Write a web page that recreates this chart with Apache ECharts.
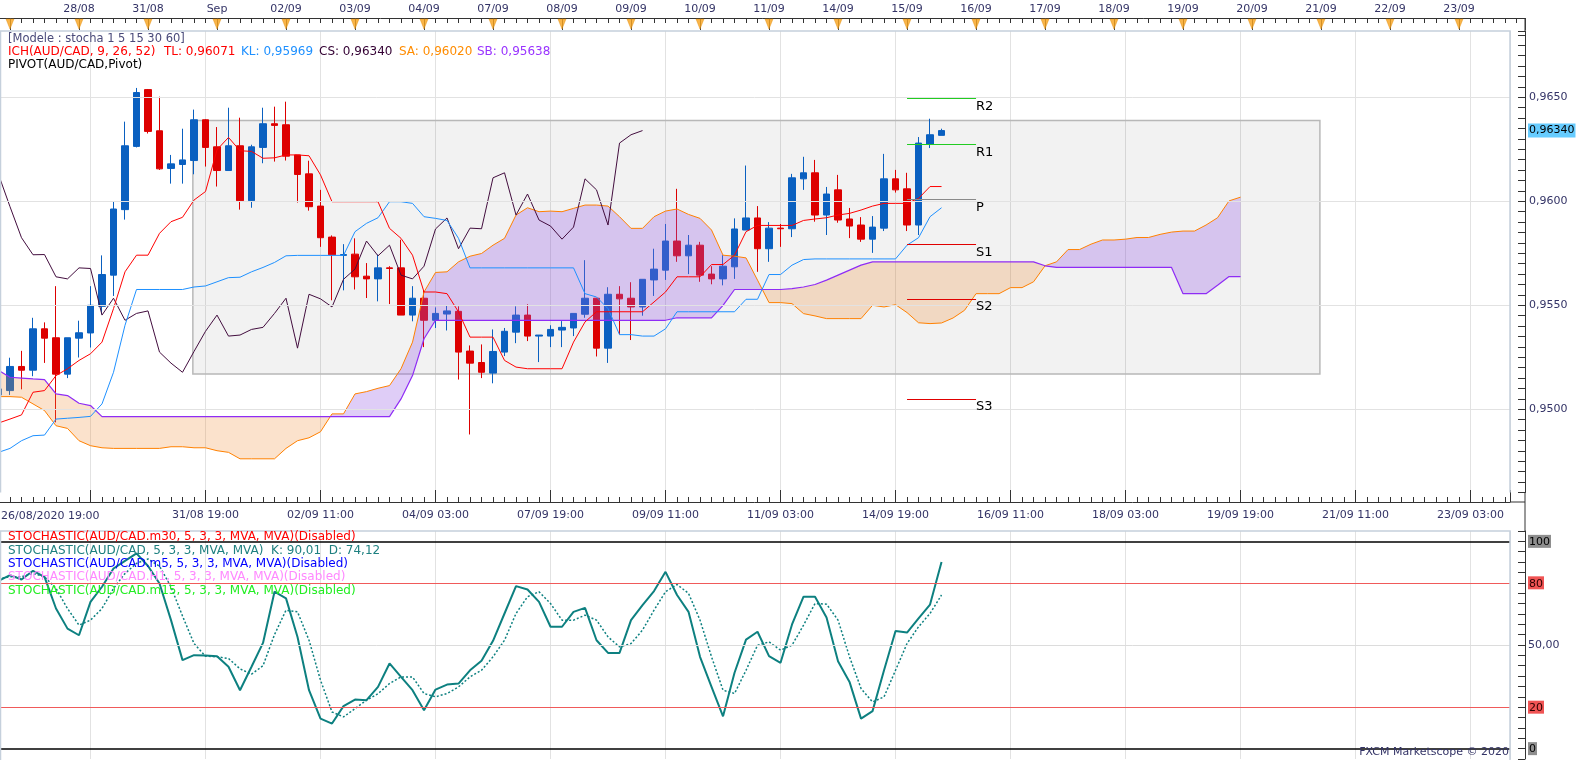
<!DOCTYPE html>
<html>
<head>
<meta charset="utf-8">
<title>AUD/CAD Ichimoku + Stochastic</title>
<script src="https://cdn.jsdelivr.net/npm/echarts@6.0.0/dist/echarts.min.js"></script>
<style>
html,body{margin:0;padding:0;background:#ffffff;overflow:hidden}
#chart{width:1583px;height:760px}
</style>
</head>
<body>
<div id="chart"></div>
<script>
// ===================== DATA (4-hour candles, first = 26/08/2020 19:00) =====================
const candleOpen = [0.95069,0.95090,0.95206,0.95188,0.95387,0.95344,0.95169,0.95342,0.95367,0.95495,
0.95645,0.95960,0.96264,0.96537,0.96339,0.96158,0.96177,0.96196,0.96392,0.96262,
0.96148,0.96267,0.96003,0.96259,0.96373,0.96368,0.96223,0.96132,0.95977,0.95828,
0.95740,0.95746,0.95640,0.95627,0.95680,0.95680,0.95453,0.95534,0.95428,0.95458,
0.95471,0.95280,0.95225,0.95174,0.95275,0.95371,0.95453,0.95352,0.95352,0.95381,
0.95391,0.95457,0.95534,0.95294,0.95553,0.95534,0.95492,0.95622,0.95669,0.95809,
0.95738,0.95789,0.95650,0.95627,0.95685,0.95862,0.95920,0.95772,0.95871,0.95868,
0.96108,0.96137,0.95934,0.96055,0.95915,0.95886,0.95818,0.95871,0.96108,0.96060,
0.95886,0.96275,0.96317];
const candleClose = [0.95098,0.95206,0.95188,0.95387,0.95342,0.95169,0.95344,0.95368,0.95500,0.95648,
0.95963,0.96267,0.96523,0.96336,0.96156,0.96180,0.96199,0.96392,0.96259,0.96148,
0.96267,0.96003,0.96262,0.96373,0.96365,0.96217,0.96129,0.95974,0.95825,0.95743,
0.95744,0.95637,0.95627,0.95680,0.95677,0.95453,0.95534,0.95428,0.95461,0.95473,
0.95275,0.95222,0.95178,0.95278,0.95375,0.95453,0.95352,0.95357,0.95384,0.95394,
0.95461,0.95534,0.95294,0.95553,0.95531,0.95492,0.95625,0.95674,0.95809,0.95738,
0.95789,0.95645,0.95627,0.95688,0.95867,0.95920,0.95772,0.95871,0.95868,0.96113,
0.96137,0.95934,0.96035,0.95910,0.95881,0.95818,0.95876,0.96108,0.96055,0.95886,
0.96280,0.96320,0.96340];
const candleLow = [0.95063,0.95069,0.95096,0.95159,0.95223,0.94937,0.95150,0.95249,0.95297,0.95457,
0.95545,0.95912,0.96259,0.96326,0.96151,0.96085,0.96085,0.96130,0.96167,0.96071,
0.96148,0.95960,0.95969,0.96183,0.96191,0.96196,0.95994,0.95955,0.95781,0.95524,
0.95572,0.95576,0.95535,0.95519,0.95506,0.95453,0.95423,0.95299,0.95391,0.95379,
0.95143,0.94879,0.95150,0.95125,0.95256,0.95318,0.95328,0.95227,0.95299,0.95299,
0.95352,0.95440,0.95254,0.95223,0.95360,0.95333,0.95450,0.95545,0.95622,0.95709,
0.95650,0.95613,0.95601,0.95596,0.95627,0.95862,0.95661,0.95709,0.95781,0.95828,
0.96055,0.95902,0.95838,0.95897,0.95823,0.95805,0.95752,0.95857,0.96042,0.95857,
0.95838,0.96256,0.96317];
const candleHigh = [0.95106,0.95248,0.95281,0.95440,0.95418,0.95592,0.95344,0.95426,0.95592,0.95740,
0.95998,0.96383,0.96545,0.96540,0.96503,0.96223,0.96349,0.96441,0.96395,0.96357,
0.96450,0.96402,0.96272,0.96450,0.96455,0.96479,0.96223,0.96195,0.96055,0.95836,
0.95794,0.95822,0.95703,0.95744,0.95688,0.95815,0.95592,0.95572,0.95490,0.95500,
0.95495,0.95307,0.95312,0.95384,0.95391,0.95495,0.95505,0.95357,0.95404,0.95424,
0.95461,0.95717,0.95534,0.95587,0.95592,0.95611,0.95625,0.95772,0.95891,0.96060,
0.95838,0.95805,0.95688,0.95741,0.95918,0.96172,0.95977,0.95900,0.95891,0.96132,
0.96214,0.96199,0.96069,0.96127,0.95968,0.95924,0.95929,0.96228,0.96151,0.96137,
0.96309,0.96397,0.96349];

// Ichimoku (9, 26, 52)
const tenkan = [0.94934,0.94953,0.94973,0.95082,0.95090,0.95162,0.95195,0.95235,0.95267,0.95323,
0.95484,0.95661,0.95741,0.95741,0.95846,0.95902,0.95923,0.96006,0.96047,0.96248,
0.96307,0.96243,0.96240,0.96207,0.96209,0.96223,0.96223,0.96219,0.96127,0.95998,
0.95998,0.95998,0.95998,0.95998,0.95870,0.95822,0.95741,0.95564,0.95564,0.95556,
0.95468,0.95347,0.95347,0.95347,0.95235,0.95203,0.95195,0.95195,0.95195,0.95195,
0.95323,0.95420,0.95469,0.95469,0.95469,0.95469,0.95469,0.95516,0.95564,0.95637,
0.95637,0.95637,0.95696,0.95696,0.95741,0.95854,0.95884,0.95884,0.95884,0.95884,
0.95908,0.95915,0.95921,0.95934,0.95942,0.95958,0.95977,0.95990,0.95990,0.95990,
0.96014,0.96071,0.96071];
const kijun = [0.94793,0.94812,0.94849,0.94873,0.94876,0.94953,0.94957,0.94961,0.94966,0.95026,
0.95178,0.95404,0.95576,0.95576,0.95576,0.95576,0.95576,0.95588,0.95593,0.95613,
0.95633,0.95635,0.95661,0.95682,0.95706,0.95738,0.95740,0.95740,0.95740,0.95740,
0.95740,0.95854,0.95894,0.95921,0.95998,0.95998,0.95990,0.95926,0.95918,0.95908,
0.95822,0.95680,0.95680,0.95680,0.95680,0.95680,0.95680,0.95680,0.95680,0.95680,
0.95680,0.95556,0.95540,0.95484,0.95359,0.95359,0.95352,0.95352,0.95387,0.95469,
0.95469,0.95469,0.95469,0.95469,0.95469,0.95529,0.95529,0.95648,0.95648,0.95693,
0.95720,0.95723,0.95723,0.95723,0.95723,0.95723,0.95723,0.95723,0.95723,0.95789,
0.95825,0.95926,0.95969];
const senkouA = [0.95061,0.95061,0.95058,0.95026,0.94994,0.94921,0.94908,0.94849,0.94825,0.94815,
0.94812,0.94812,0.94812,0.94812,0.94812,0.94820,0.94820,0.94815,0.94815,0.94801,
0.94793,0.94762,0.94762,0.94762,0.94762,0.94812,0.94849,0.94863,0.94892,0.94978,
0.94978,0.95074,0.95085,0.95101,0.95114,0.95195,0.95323,0.95564,0.95658,0.95661,
0.95709,0.95736,0.95749,0.95789,0.95822,0.95934,0.95969,0.95950,0.95953,0.95950,
0.95966,0.95982,0.95982,0.95977,0.95926,0.95870,0.95870,0.95926,0.95953,0.95963,
0.95937,0.95918,0.95862,0.95741,0.95736,0.95728,0.95621,0.95513,0.95513,0.95508,
0.95460,0.95449,0.95436,0.95436,0.95436,0.95436,0.95500,0.95492,0.95503,0.95465,
0.95416,0.95412,0.95415,0.95439,0.95476,0.95556,0.95556,0.95556,0.95585,0.95585,
0.95613,0.95690,0.95709,0.95768,0.95768,0.95794,0.95814,0.95814,0.95818,0.95826,
0.95826,0.95841,0.95852,0.95857,0.95857,0.95886,0.95921,0.96002,0.96020];
const senkouB = [0.95187,0.95154,0.95150,0.95146,0.95143,0.95074,0.95066,0.95029,0.95018,0.94965,
0.94965,0.94965,0.94965,0.94965,0.94965,0.94965,0.94965,0.94965,0.94965,0.94965,
0.94965,0.94965,0.94965,0.94965,0.94965,0.94965,0.94965,0.94965,0.94965,0.94965,
0.94965,0.94965,0.94965,0.94965,0.94965,0.95050,0.95162,0.95339,0.95428,0.95428,
0.95428,0.95428,0.95428,0.95428,0.95428,0.95428,0.95428,0.95428,0.95428,0.95428,
0.95428,0.95428,0.95428,0.95428,0.95428,0.95428,0.95428,0.95428,0.95428,0.95440,
0.95440,0.95440,0.95440,0.95500,0.95576,0.95576,0.95576,0.95576,0.95576,0.95580,
0.95588,0.95600,0.95621,0.95645,0.95669,0.95693,0.95709,0.95709,0.95709,0.95709,
0.95709,0.95709,0.95709,0.95709,0.95709,0.95709,0.95709,0.95709,0.95709,0.95709,
0.95709,0.95690,0.95682,0.95682,0.95682,0.95682,0.95682,0.95682,0.95682,0.95682,
0.95682,0.95682,0.95682,0.95556,0.95556,0.95556,0.95596,0.95638,0.95638];

// Daily pivot levels
const pivotNames = ['R2', 'R1', 'P', 'S1', 'S2', 'S3'];
const pivotValues = [0.96495, 0.96274, 0.96010, 0.95793, 0.95530, 0.95050];

// Stochastic (5,3,3)
const stochK = [81.0,83.7,81.6,85.8,82.9,67.6,57.9,54.7,70.8,78.1,
86.9,90.6,94.2,88.1,79.7,62.0,42.7,45.1,44.9,44.6,
39.5,28.2,39.5,51.0,75.7,72.5,53.9,28.2,14.5,12.1,
20.5,23.7,23.4,29.8,41.1,34.6,28.2,18.5,28.5,30.9,
31.4,37.8,42.4,52.0,65.2,78.4,76.8,70.8,58.8,58.8,
66.0,67.9,52.3,46.2,46.2,62.0,69.2,76.0,85.3,74.1,
66.0,44.3,29.8,15.6,36.6,52.6,56.4,44.6,41.4,59.9,
73.3,73.3,63.3,42.2,32.2,14.5,18.1,37.8,56.8,56.0,
62.8,69.5,90.01];
const stochD = [82.0,82.9,82.9,84.5,82.9,77.3,67.6,59.6,62.0,67.6,
77.3,84.5,89.4,91.5,88.0,78.0,64.0,50.7,44.6,44.3,
43.5,38.5,35.9,40.0,55.0,66.8,66.0,52.3,33.0,17.7,
15.3,19.3,23.4,26.5,31.4,34.6,34.6,26.6,25.0,26.6,
29.8,34.6,37.8,44.3,52.3,65.2,73.3,75.7,70.0,62.0,
62.0,64.4,62.0,53.9,49.1,50.7,57.2,66.8,75.7,79.2,
74.9,62.0,44.3,28.2,26.6,37.8,49.9,51.5,47.5,49.9,
59.6,70.0,69.7,62.0,44.3,29.0,22.5,25.0,37.8,50.7,
58.8,65.2,74.12];
const stochLevels = [0, 20, 50, 80, 100];

// Axis texts
const priceGridLevels = [0.9500, 0.9550, 0.9600, 0.9650];
const firstBarLabel = '26/08/2020 19:00';
const bottomTickLabels = ['', '', '31/08 19:00', '02/09 11:00', '04/09 03:00', '07/09 19:00', '09/09 11:00',
  '11/09 03:00', '14/09 19:00', '16/09 11:00', '18/09 03:00', '19/09 19:00', '21/09 11:00', '23/09 03:00'];
const dayLabels = ['', '', '28/08', '31/08', 'Sep', '02/09', '03/09', '04/09', '07/09', '08/09', '09/09',
  '10/09', '11/09', '14/09', '15/09', '16/09', '17/09', '18/09', '19/09', '20/09', '21/09', '22/09', '23/09'];

// Rectangle drawing (annotation) in data space
const boxRange = {u0: 18.9, u1: 116.9, top: 0.96389, bottom: 0.95170};

// ===================== BUILD =====================
const U0 = 2;                 // x-position of the first candle slot
const PX_MAIN_MAX = 133.43;   // x extent of the panels
const fmt5 = v => v.toFixed(5).replace('.', ',');
const fmt2 = v => v.toFixed(2).replace('.', ',');
const FONT = '"DejaVu Sans", Verdana, sans-serif';
const BULL_FILL = 'rgba(150,90,230,0.30)';
const BEAR_FILL = 'rgba(240,140,50,0.25)';

const candleData = candleOpen.map((o, i) => [U0 + i, o, candleClose[i], candleLow[i], candleHigh[i]]);
const toLine = arr => arr.map((v, i) => [U0 + i, v]);
const chikouData = candleClose.slice(26).map((v, i) => [U0 + i, v]);
const lastClose = candleClose[candleClose.length - 1];

const pivotDay = dayLabels.indexOf('15/09');
const pivotU0 = 6 * pivotDay - 3, pivotU1 = pivotU0 + 6;
const pivotColor = n => n[0] === 'R' ? '#22cc22' : (n === 'P' ? '#8a8a8a' : '#e00000');

const fmtBottom = v => {
  const k = Math.round(v / 10);
  return Math.abs(v - k * 10) < 1e-6 ? (bottomTickLabels[k] || '') : '';
};
const fmtTop = v => {
  const k = Math.round(v / 6);
  return Math.abs(v - k * 6) < 1e-6 ? (dayLabels[k] || '') : '';
};
const fmtPrice = v => {
  const t = Math.round(v * 200);
  return Math.abs(v * 200 - t) < 1e-6 ? (t / 200).toFixed(4).replace('.', ',') : '';
};
const fmtStoch = v => {
  const r = Math.round(v);
  if (Math.abs(v - r) > 1e-6 || stochLevels.indexOf(r) < 0) return '';
  if (r === 50) return '{n|50,00}';
  if (r === 20 || r === 80) return '{r|' + r + '}';
  return '{g|' + r + '}';
};
const stochLevelStyle = v => (v === 0 || v === 100) ? {color: '#000000', width: 1.5}
  : (v === 50 ? {color: '#dcdcdc', width: 1} : {color: '#f05a5a', width: 1.2});

// Kumo polygons between Senkou A and Senkou B, split where they cross
function renderCloud(params, api) {
  const n = senkouA.length, children = [];
  const P = (x, y) => api.coord([x, y]);
  let upper = [], lower = [], sign = null;
  const flush = () => {
    if (upper.length + lower.length >= 3) {
      children.push({type: 'polygon', silent: true,
        shape: {points: upper.concat(lower.slice().reverse())},
        style: {fill: sign >= 0 ? BULL_FILL : BEAR_FILL, stroke: null}});
    }
  };
  for (let i = 0; i < n; i++) {
    const x = U0 + i, a = senkouA[i], b = senkouB[i], d = a - b;
    const s = d >= 0 ? 1 : -1;
    if (sign === null) sign = s;
    if (s !== sign) {
      const a0 = senkouA[i - 1], b0 = senkouB[i - 1], d0 = a0 - b0;
      const t = d0 / (d0 - d), xc = x - 1 + t, yc = a0 + (a - a0) * t;
      upper.push(P(xc, yc));
      flush();
      upper = [P(xc, yc)]; lower = [];
      sign = s;
    }
    upper.push(P(x, a)); lower.push(P(x, b));
  }
  flush();
  return {type: 'group', children: children};
}

const txt = (x, y, text, fill, size, align) => ({
  type: 'text', x: x, y: y, silent: true, z: 100,
  style: {text: text, fill: fill, font: (size || 11) + 'px ' + FONT, align: align || 'left', verticalAlign: 'middle'}
});
const seg = (x1, y1, x2, y2, color, w) => ({
  type: 'line', silent: true, z: 90, shape: {x1: x1, y1: y1, x2: x2, y2: y2},
  style: {stroke: color, lineWidth: w || 1}
});

const chart = echarts.init(document.getElementById('chart'), null, {renderer: 'canvas'});

const gridBase = {show: false, containLabel: false, outerBoundsMode: 'none'};
const option = {
  animation: false,
  backgroundColor: '#ffffff',
  textStyle: {fontFamily: FONT},
  grid: [
    Object.assign({left: -24.5, top: 31, width: 1534.5, height: 461.5}, gridBase),
    Object.assign({left: -24.5, top: 531, width: 1534.5, height: 228}, gridBase),
    Object.assign({left: -59, top: 18, width: 1584, height: 12}, gridBase)
  ],
  xAxis: [
    {gridIndex: 0, type: 'value', min: 0, max: PX_MAIN_MAX, interval: 10, position: 'bottom', offset: 9.5,
      axisLine: {show: true, onZero: false, lineStyle: {color: '#333333', width: 1}},
      axisTick: {show: true, inside: true, length: 12, lineStyle: {color: '#333333'}},
      minorTick: {show: true, splitNumber: 10, length: 5, lineStyle: {color: '#333333'}},
      axisLabel: {show: true, formatter: fmtBottom, color: '#333366', fontSize: 11, margin: 8, fontFamily: FONT},
      splitLine: {show: true, lineStyle: {color: '#e2e2e2', width: 1}}},
    {gridIndex: 1, type: 'value', min: 0, max: PX_MAIN_MAX, interval: 10,
      axisLine: {show: false}, axisTick: {show: false}, axisLabel: {show: false},
      splitLine: {show: true, lineStyle: {color: '#e2e2e2', width: 1}}},
    {gridIndex: 2, type: 'value', min: 0, max: 137.74, interval: 6, position: 'top',
      axisLine: {show: true, onZero: false, lineStyle: {color: '#333333', width: 1}},
      axisTick: {show: true, inside: true, length: 12, lineStyle: {color: '#444444'}},
      minorTick: {show: true, splitNumber: 6, length: 5, lineStyle: {color: '#333333'}},
      axisLabel: {show: true, formatter: fmtTop, color: '#333366', fontSize: 11, margin: 3, fontFamily: FONT},
      splitLine: {show: false}}
  ],
  yAxis: [
    {gridIndex: 0, type: 'value', position: 'right', min: 0.946, max: 0.968188, interval: 0.0005, offset: 15,
      axisLine: {show: true, onZero: false, lineStyle: {color: '#333333', width: 1}},
      axisTick: {show: true, inside: true, length: 7, lineStyle: {color: '#333333'}},
      axisLabel: {show: true, formatter: fmtPrice, color: '#333366', fontSize: 11, margin: 4, fontFamily: FONT},
      splitLine: {show: false}},
    {gridIndex: 1, type: 'value', position: 'right', min: -5, max: 105, interval: 5, offset: 15,
      axisLine: {show: true, onZero: false, lineStyle: {color: '#333333', width: 1}},
      axisTick: {show: true, inside: true, length: 7, lineStyle: {color: '#333333'}},
      axisLabel: {show: true, formatter: fmtStoch, margin: 3, fontSize: 11, fontFamily: FONT,
        rich: {
          g: {backgroundColor: '#8e8e8e', color: '#000000', padding: [2, 1, 0, 1], fontSize: 11, fontFamily: FONT},
          r: {backgroundColor: '#f05454', color: '#2a0000', padding: [2, 1, 0, 1], fontSize: 11, fontFamily: FONT},
          n: {color: '#333366', fontSize: 11, fontFamily: FONT}
        }},
      splitLine: {show: false}},
    {gridIndex: 2, type: 'value', min: 0, max: 1, show: false}
  ],
  series: [
    {name: 'layout', type: 'line', xAxisIndex: 0, yAxisIndex: 0, z: 1, silent: true, clip: false,
      data: [[U0, candleClose[0]]], showSymbol: false, symbol: 'none', lineStyle: {width: 0},
      markLine: {silent: true, symbol: 'none', animation: false, precision: 6, label: {show: false},
        lineStyle: {color: '#e2e2e2', width: 1, type: 'solid'},
        data: priceGridLevels.map(v => ({yAxis: v}))},
      markArea: {silent: true, animation: false,
        itemStyle: {color: 'rgba(0,0,0,0.05)', borderColor: '#b8b8b8', borderWidth: 1.5},
        data: [[{xAxis: boxRange.u0, yAxis: boxRange.top}, {xAxis: boxRange.u1, yAxis: boxRange.bottom}]]}},
    {name: 'AUD/CAD', type: 'candlestick', xAxisIndex: 0, yAxisIndex: 0, z: 2,
      data: candleData, encode: {x: 0, y: [1, 2, 3, 4]}, barWidth: 7,
      itemStyle: {color: '#0a60c0', color0: '#dd0000', borderColor: '#0a60c0', borderColor0: '#dd0000', borderWidth: 1}},
    {name: 'Kumo', type: 'custom', xAxisIndex: 0, yAxisIndex: 0, z: 3, silent: true, clip: true,
      data: [[U0, senkouA[0]]], encode: {x: 0, y: 1}, renderItem: renderCloud},
    {name: 'SA', type: 'line', z: 4, data: toLine(senkouA), symbol: 'none', showSymbol: false,
      lineStyle: {color: '#ff8000', width: 1}},
    {name: 'SB', type: 'line', z: 4, data: toLine(senkouB), symbol: 'none', showSymbol: false,
      lineStyle: {color: '#8f2cf5', width: 1.2}},
    {name: 'CS', type: 'line', z: 4, data: chikouData, symbol: 'none', showSymbol: false,
      lineStyle: {color: '#420d3e', width: 1}},
    {name: 'KL', type: 'line', z: 4, data: toLine(kijun), symbol: 'none', showSymbol: false,
      lineStyle: {color: '#1e90ff', width: 1}},
    {name: 'TL', type: 'line', z: 4, data: toLine(tenkan), symbol: 'none', showSymbol: false,
      lineStyle: {color: '#ff0000', width: 1}},
    {name: 'pivots', type: 'line', xAxisIndex: 0, yAxisIndex: 0, z: 5, silent: true, clip: false,
      data: [[U0, candleClose[0]]], showSymbol: false, symbol: 'none', lineStyle: {width: 0},
      markLine: {silent: true, symbol: 'none', animation: false, precision: 6,
        data: pivotNames.map((n, i) => [
          {coord: [pivotU0, pivotValues[i]], lineStyle: {color: pivotColor(n), width: 1.2, type: 'solid'},
            label: {show: true, position: 'end', distance: 0, offset: [0, 8], formatter: n, color: '#000000',
              fontSize: 13, fontFamily: FONT}},
          {coord: [pivotU1, pivotValues[i]]}
        ])}},
    {name: 'lastPrice', type: 'line', xAxisIndex: 0, yAxisIndex: 0, z: 6, silent: true, clip: false,
      data: [[U0, candleClose[0]]], showSymbol: false, symbol: 'none', lineStyle: {width: 0},
      markLine: {silent: true, symbol: 'none', animation: false, precision: 6,
        lineStyle: {color: 'rgba(0,0,0,0)', width: 1, type: 'solid'},
        label: {show: true, position: 'end', distance: 18, formatter: fmt5(lastClose), color: '#000000',
          backgroundColor: '#66ccff', padding: [2, 1, 1, 1], fontSize: 11, fontFamily: FONT},
        data: [{yAxis: lastClose}]}},
    {name: 'days', type: 'scatter', xAxisIndex: 2, yAxisIndex: 2, z: 3, silent: true,
      data: dayLabels.map((d, k) => [6 * k, 0.5]),
      symbol: 'triangle', symbolRotate: 180, symbolSize: [8, 10],
      itemStyle: {color: '#f7a21b', borderColor: '#e08800', borderWidth: 0.5}},
    {name: 'K', type: 'line', xAxisIndex: 1, yAxisIndex: 1, z: 4, data: toLine(stochK),
      symbol: 'none', showSymbol: false, lineStyle: {color: '#0d8080', width: 2},
      markLine: {silent: true, symbol: 'none', animation: false, precision: 6, label: {show: false},
        data: stochLevels.map(v => ({yAxis: v, lineStyle: Object.assign({type: 'solid'}, stochLevelStyle(v))}))}},
    {name: 'D', type: 'line', xAxisIndex: 1, yAxisIndex: 1, z: 4, data: toLine(stochD),
      symbol: 'none', showSymbol: false, lineStyle: {color: '#0d8080', width: 1.5, type: [2, 2]}}
  ],
  graphic: [
    {type: 'polyline', silent: true, z: 90, shape: {points: [[0.5, 492.5], [0.5, 31], [1510, 31], [1510, 492.5]]},
      style: {stroke: '#c5d0dc', lineWidth: 1.5, fill: null}},
    {type: 'polyline', silent: true, z: 90, shape: {points: [[0.5, 760], [0.5, 531], [1510, 531], [1510, 760]]},
      style: {stroke: '#c5d0dc', lineWidth: 1.5, fill: null}},
    seg(1525, 18, 1525, 31, '#333333'),
    seg(1525, 492, 1525, 531, '#333333'),
    seg(1510, 502, 1525, 502, '#333333'),
    txt(8, 39, '[Modele : stocha 1 5 15 30 60]', '#4a4a7a', 11.5),
    txt(8, 52, 'ICH(AUD/CAD, 9, 26, 52)', '#ff0000', 12),
    txt(164, 52, 'TL: ' + fmt5(tenkan[tenkan.length - 1]), '#ff0000', 12),
    txt(241, 52, 'KL: ' + fmt5(kijun[kijun.length - 1]), '#1e90ff', 12),
    txt(319, 52, 'CS: ' + fmt5(lastClose), '#330033', 12),
    txt(399, 52, 'SA: ' + fmt5(senkouA[senkouA.length - 1]), '#ff8c00', 12),
    txt(477, 52, 'SB: ' + fmt5(senkouB[senkouB.length - 1]), '#9933ff', 12),
    txt(8, 64.5, 'PIVOT(AUD/CAD,Pivot)', '#000000', 12),
    txt(1, 516, firstBarLabel, '#333366'),
    txt(8, 537, 'STOCHASTIC(AUD/CAD.m30, 5, 3, 3, MVA, MVA)(Disabled)', '#ff0000', 12),
    txt(8, 550.5, 'STOCHASTIC(AUD/CAD, 5, 3, 3, MVA, MVA)  K: ' + fmt2(stochK[stochK.length - 1]) +
      '  D: ' + fmt2(stochD[stochD.length - 1]), '#1e8080', 12),
    txt(8, 564, 'STOCHASTIC(AUD/CAD.m5, 5, 3, 3, MVA, MVA)(Disabled)', '#0000ff', 12),
    txt(8, 577, 'STOCHASTIC(AUD/CAD.H1, 5, 3, 3, MVA, MVA)(Disabled)', '#ff88ff', 12),
    txt(8, 590.5, 'STOCHASTIC(AUD/CAD.m15, 5, 3, 3, MVA, MVA)(Disabled)', '#22ee22', 12),
    txt(1509, 752, 'FXCM Marketscope \u00A9 2020', '#333366', 11, 'right')
  ]
};
chart.setOption(option);
</script>
</body>
</html>
